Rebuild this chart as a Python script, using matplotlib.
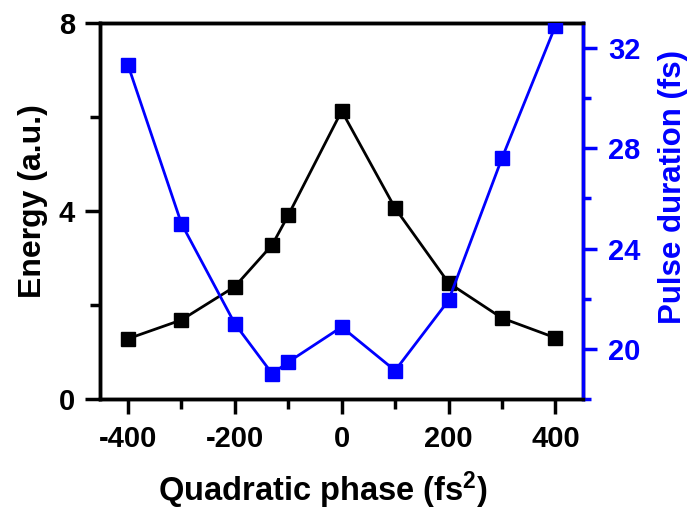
import numpy as np
import matplotlib
matplotlib.use("Agg")
import matplotlib.pyplot as plt
from matplotlib.ticker import MultipleLocator

# Data
phase = [-400, -300, -200, -130, -100, 0, 100, 200, 300, 400]
energy = [1.28, 1.68, 2.39, 3.28, 3.91, 6.13, 4.06, 2.47, 1.72, 1.30]
duration = [31.33, 25.0, 21.0, 19.0, 19.47, 20.87, 19.13, 21.93, 27.61, 32.89]

BLUE = "#0000ff"

plt.rcParams["font.family"] = ["Liberation Sans", "DejaVu Sans"]
plt.rcParams["font.weight"] = "bold"
plt.rcParams["axes.unicode_minus"] = False
plt.rcParams["mathtext.fontset"] = "custom"
plt.rcParams["mathtext.bf"] = "Liberation Sans:bold"
plt.rcParams["mathtext.rm"] = "Liberation Sans:bold"
plt.rcParams["mathtext.default"] = "bf"

fig = plt.figure(figsize=(6.91, 5.14), dpi=100)
ax = fig.add_axes([0.145, 0.224, 0.699, 0.731])
ax2 = ax.twinx()

ax.plot(phase, energy, color="black", lw=2, marker="s", ms=10, zorder=3)
ax2.plot(phase, duration, color=BLUE, lw=2, marker="s", ms=10, zorder=3)

ax.set_xlim(-452, 452)
ax.set_ylim(0, 8)
ax2.set_ylim(18, 33)

ax.xaxis.set_major_locator(MultipleLocator(200))
ax.xaxis.set_minor_locator(MultipleLocator(100))
ax.yaxis.set_major_locator(MultipleLocator(4))
ax.yaxis.set_minor_locator(MultipleLocator(2))
ax2.yaxis.set_major_locator(MultipleLocator(4))
ax2.yaxis.set_minor_locator(MultipleLocator(2))

for a in (ax, ax2):
    for s in a.spines.values():
        s.set_linewidth(2.5)
ax2.spines["right"].set_color(BLUE)

ax.tick_params(which="both", direction="out", width=2.5, labelsize=21)
ax.tick_params(which="major", length=11)
ax.tick_params(which="minor", length=7)
ax.tick_params(axis="x", pad=8)
ax.tick_params(axis="y", pad=7)
ax2.tick_params(which="both", direction="out", width=2.5, colors=BLUE, labelsize=21)
ax2.tick_params(which="major", length=10, pad=8)
ax2.tick_params(which="minor", length=6)

for lab in ax.get_xticklabels() + ax.get_yticklabels() + ax2.get_yticklabels():
    lab.set_fontweight("bold")

ax.set_xlabel("Quadratic phase (fs$^{2}$)", fontsize=23.5, fontweight="bold")
ax.set_ylabel("Energy (a.u.)", fontsize=23, fontweight="bold")
ax2.set_ylabel("Pulse duration (fs)", fontsize=22.5, fontweight="bold", color=BLUE)

ax.xaxis.set_label_coords(0.46, -0.188)
ax.yaxis.set_label_coords(-0.108, 0.527)
ax2.yaxis.set_label_coords(1.155, 0.564)

fig.savefig("out.png", dpi=100)
